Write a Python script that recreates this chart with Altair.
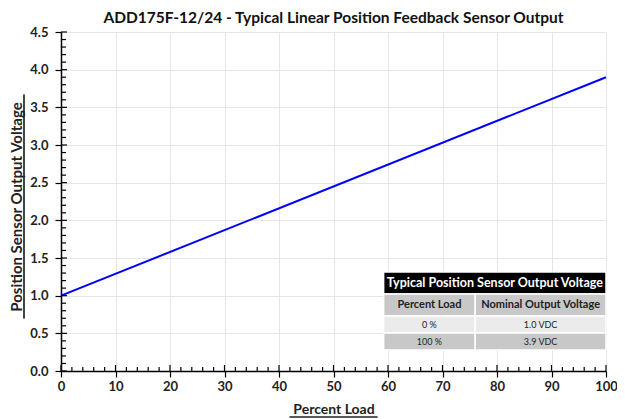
import altair as alt
import pandas as pd

# Data
percent_load = [0, 100]
voltage = [1.0, 3.9]

table_title = "Typical Position Sensor Output Voltage"
table_headers = ["Percent Load", "Nominal Output Voltage"]
table_rows = [["0 %", "1.0 VDC"], ["100 %", "3.9 VDC"]]

x_major = list(range(0, 101, 10))
y_major = [round(v * 0.5, 1) for v in range(0, 10)]
x_minor = [v for v in range(0, 101, 2) if v % 10 != 0]
y_minor = [round(v * 0.1, 1) for v in range(0, 46) if v % 5 != 0]

W, H = 545, 339
FONT = "Lato"

xs = alt.Scale(domain=[0, 100], nice=False)
ys = alt.Scale(domain=[0, 4.5], nice=False)

x_axis = alt.Axis(title="Percent Load", values=x_major, tickSize=6, tickColor="black",
                  domainColor="black", domainWidth=1.5, tickWidth=1.2,
                  labelFont=FONT, labelFontWeight="bold", labelFontSize=13, labelColor="#222",
                  labelPadding=3, titleFont=FONT, titleFontWeight="bold", titleFontSize=14,
                  titleColor="#222", titlePadding=9, gridColor="#e6e6e6", labelFlush=False,
                  labelOverlap=False)
y_axis = alt.Axis(title="Position Sensor Output Voltage", values=y_major, format=".1f",
                  tickSize=6, tickColor="black", domainColor="black", domainWidth=1.5,
                  tickWidth=1.2, labelFont=FONT, labelFontWeight="bold", labelFontSize=13,
                  labelColor="#222", labelPadding=7, titleFont=FONT, titleFontWeight="bold",
                  titleFontSize=15, titleColor="#222", titlePadding=5, gridColor="#e6e6e6",
                  titleY=H / 2 + 5, labelOverlap=False)

line_df = pd.DataFrame({"x": percent_load, "y": voltage})
line = alt.Chart(line_df).mark_line(color="#0000FF", strokeWidth=2).encode(
    x=alt.X("x:Q", scale=xs, axis=x_axis),
    y=alt.Y("y:Q", scale=ys, axis=y_axis),
)

# inner tick marks
def xtick_layer(vals, length):
    d = pd.DataFrame({"x": vals})
    return alt.Chart(d).mark_rule(color="black", strokeWidth=1.2).encode(
        x=alt.X("x:Q", scale=xs, axis=x_axis), y=alt.value(H), y2=alt.value(H - length))

def ytick_layer(vals, length):
    d = pd.DataFrame({"y": vals})
    return alt.Chart(d).mark_rule(color="black", strokeWidth=1.2).encode(
        y=alt.Y("y:Q", scale=ys, axis=y_axis), x=alt.value(0), x2=alt.value(length))

ticks = [xtick_layer(x_minor, 4), xtick_layer(x_major, 6),
         ytick_layer(y_minor, 5), ytick_layer(y_major, 6)]

# table in data coordinates
x0, xm, x1 = 59.2, 76.0, 100.0
yb = [1.314, 1.022, 0.730, 0.504, 0.279]
cells = [dict(x=x0, x2=x1, y=yb[0], y2=yb[1], fill="#000000", text=table_title,
              tc="#ffffff", kind="title")]
fills = ["#c8c8c8", "#ebebeb", "#c8c8c8"]
rows = [table_headers] + table_rows
for i, r in enumerate(rows):
    for j, t in enumerate(r):
        cells.append(dict(x=(x0 if j == 0 else xm), x2=(xm if j == 0 else x1),
                          y=yb[i + 1], y2=yb[i + 2], fill=fills[i], text=t, tc="#222",
                          kind=("head" if i == 0 else "body")))
cdf = pd.DataFrame(cells)
cdf["xc"] = (cdf.x + cdf.x2) / 2
cdf["yc"] = (cdf.y + cdf.y2) / 2

rects = alt.Chart(cdf).mark_rect(stroke="white", strokeWidth=1.5).encode(
    x=alt.X("x:Q", scale=xs, axis=x_axis), x2="x2:Q",
    y=alt.Y("y:Q", scale=ys, axis=y_axis), y2="y2:Q",
    fill=alt.Fill("fill:N", scale=None),
)

def text_layer(kind, size, weight):
    return alt.Chart(cdf[cdf.kind == kind]).mark_text(
        font=FONT, fontWeight=weight, fontSize=size, baseline="middle").encode(
        x=alt.X("xc:Q", scale=xs, axis=x_axis), y=alt.Y("yc:Q", scale=ys, axis=y_axis),
        text="text:N", color=alt.Color("tc:N", scale=None))

ttitle = text_layer("title", 12.5, "bold")
thead = text_layer("head", 11, "bold")
tbody = text_layer("body", 9, "normal")

# underlines for axis titles
ul_x = alt.Chart(line_df).mark_rule(color="#222", strokeWidth=1.2).encode(
    x=alt.value(W / 2 - 44), x2=alt.value(W / 2 + 44), y=alt.value(H + 46))
ul_y = alt.Chart(line_df).mark_rule(color="#222", strokeWidth=1.2).encode(
    y=alt.value(H / 2 + 5 - 112), y2=alt.value(H / 2 + 5 + 112), x=alt.value(-37))

chart = alt.layer(line, rects, ttitle, thead, tbody, *ticks, ul_x, ul_y).properties(
    width=W, height=H,
    autosize=alt.AutoSizeParams(type="none"),
    padding={"left": 53, "top": 24, "right": 11, "bottom": 50},
    title=alt.Title("ADD175F-12/24 - Typical Linear Position Feedback Sensor Output",
                    font=FONT, fontSize=15.5, fontWeight="bold", color="#111", offset=0,
                    anchor="middle"),
).configure_view(stroke=None).configure(background="white")

chart.save("out.html", embed_options={"renderer": "svg", "actions": False})
